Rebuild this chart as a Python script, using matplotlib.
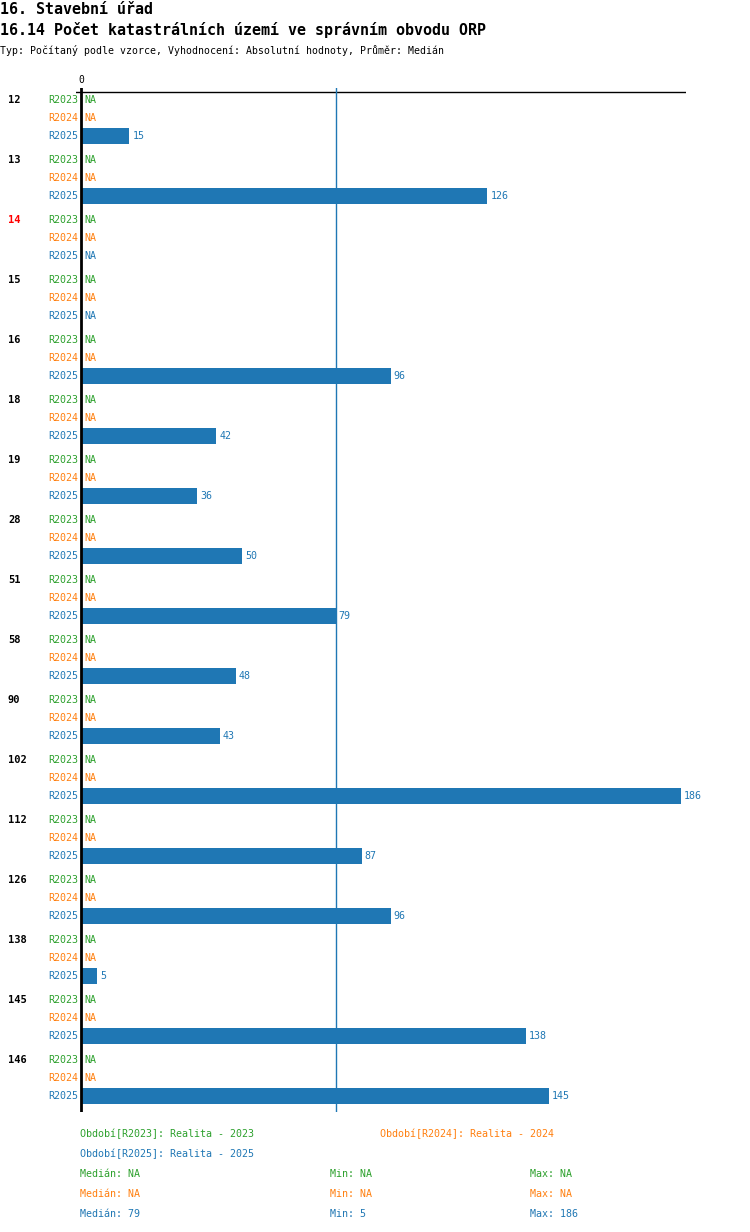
import matplotlib
matplotlib.use("Agg")
import matplotlib.pyplot as plt

groups = ["12", "13", "14", "15", "16", "18", "19", "28", "51", "58", "90",
          "102", "112", "126", "138", "145", "146"]
series = ["R2023", "R2024", "R2025"]
colors = ["#2ca02c", "#ff7f0e", "#1f77b4"]
r2023 = [None] * 17
r2024 = [None] * 17
r2025 = [15, 126, None, None, 96, 42, 36, 50, 79, 48, 43, 186, 87, 96, 5, 138, 145]
median_val = 79
highlight = "14"

W, H = 750, 1232
fig = plt.figure(figsize=(W / 100, H / 100), dpi=100)
MONO = ["DejaVu Sans Mono", "DejaVu Sans"]


def fx(x):
    return x / W


def fy(y):
    return 1 - y / H


def ftext(x, y, s, **kw):
    kw.setdefault("family", MONO)
    fig.text(fx(x), fy(y), s, va="center", **kw)


# Header
ftext(0, 9, "16. Stavební úřad", fontsize=10.8, fontweight="bold")
ftext(0, 30, "16.14 Počet katastrálních území ve správním obvodu ORP", fontsize=10.8, fontweight="bold")
ftext(0, 51, "Typ: Počítaný podle vzorce, Vyhodnocení: Absolutní hodnoty, Průměr: Medián", fontsize=7.1)

# Chart axes in pixel layout
ax_l, ax_r, ax_t, ax_b = 76, 686, 88, 1112
ax = fig.add_axes([fx(ax_l), fy(ax_b), (ax_r - ax_l) / W, (ax_b - ax_t) / H])
ppu = 600 / 186.0
ax.set_xlim(-(81 - ax_l) / ppu, (ax_r - 81) / ppu)
ax.set_ylim(ax_b, ax_t)
ax.axis("off")

ax.axhline(92, color="black", lw=1)
ax.axvline(0, color="black", lw=2, ymax=1)
ax.axvline(median_val, color="#1f77b4", lw=1)
ftext(81, 80, "0", fontsize=7, ha="center")

data = [r2023, r2024, r2025]
for g, name in enumerate(groups):
    y0 = 100 + 60 * g
    ftext(8, y0, name, fontsize=7.5, fontweight="bold",
          color="red" if name == highlight else "black")
    for s in range(3):
        y = y0 + 18 * s
        ftext(78, y, series[s], fontsize=7.2, color=colors[s], ha="right")
        v = data[s][g]
        if v is None:
            ftext(84, y, "NA", fontsize=7.2, color=colors[s])
        else:
            ax.barh(y, v, height=16, color=colors[s], left=0)
            ax.annotate(str(v), (v, y), xytext=(3, 0), textcoords="offset pixels",
                        va="center", ha="left", fontsize=7.2, color=colors[s], family=MONO)

# Footer
ftext(80, 1134, "Období[R2023]: Realita - 2023", fontsize=7.2, color=colors[0])
ftext(380, 1134, "Období[R2024]: Realita - 2024", fontsize=7.2, color=colors[1])
ftext(80, 1154, "Období[R2025]: Realita - 2025", fontsize=7.2, color=colors[2])


def stats(vals):
    vv = sorted(v for v in vals if v is not None)
    if not vv:
        return "NA", "NA", "NA"
    n = len(vv)
    med = vv[n // 2] if n % 2 else (vv[n // 2 - 1] + vv[n // 2]) / 2
    med = int(med) if float(med).is_integer() else med
    return str(med), str(vv[0]), str(vv[-1])


for s in range(3):
    y = 1174 + 20 * s
    med, mn, mx = stats(data[s])
    ftext(80, y, "Medián: " + med, fontsize=7.2, color=colors[s])
    ftext(330, y, "Min: " + mn, fontsize=7.2, color=colors[s])
    ftext(530, y, "Max: " + mx, fontsize=7.2, color=colors[s])

fig.savefig("out.png", dpi=100)
